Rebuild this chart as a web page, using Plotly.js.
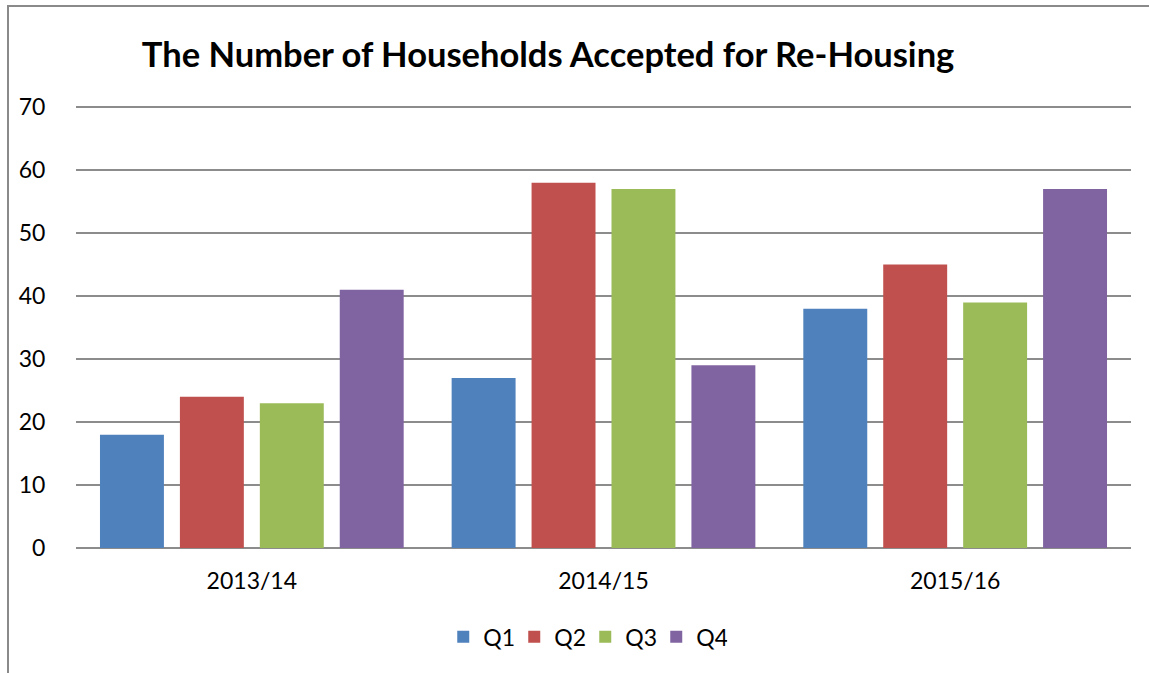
<!DOCTYPE html>
<html>
<head>
<meta charset="utf-8">
<script src="https://cdn.plot.ly/plotly-3.0.1.min.js"></script>
<style>
html,body{margin:0;padding:0;background:#fff;}
#wrap{position:relative;width:1149px;height:673px;}
#chart{width:1149px;height:673px;}
#frame{position:absolute;left:7px;top:5px;width:1160px;height:700px;border-left:2px solid #8a8a8a;border-top:2px solid #8a8a8a;pointer-events:none;}
</style>
</head>
<body>
<div id="wrap"><div id="chart"></div><div id="frame"></div></div>
<script>
const categories = ["2013/14", "2014/15", "2015/16"];
const seriesNames = ["Q1", "Q2", "Q3", "Q4"];
const q1 = [18, 27, 38];
const q2 = [24, 58, 45];
const q3 = [23, 57, 39];
const q4 = [41, 29, 57];
const colors = ["#4f81bd", "#c0504d", "#9bbb59", "#8064a2"];
const values = [q1, q2, q3, q4];
const yTicks = [0, 10, 20, 30, 40, 50, 60, 70];

const font = "Lato, 'Open Sans', sans-serif";
const traces = values.map((v, i) => ({
  type: "bar",
  name: seriesNames[i],
  x: categories,
  y: v,
  marker: {color: colors[i]},
  hoverinfo: "x+y+name"
}));

const layout = {
  width: 1149, height: 673,
  margin: {l: 76, r: 18, t: 104, b: 125},
  paper_bgcolor: "#fff", plot_bgcolor: "#fff",
  font: {family: font, size: 22, color: "#000"},
  title: {text: "<b>The Number of Households Accepted for Re-Housing</b>",
          font: {family: font, size: 34.5, color: "#000"},
          x: 0.477, xanchor: "center", y: 0.918, yanchor: "middle"},
  barmode: "group",
  bargap: 0.0909,
  bargroupgap: 0.2,
  xaxis: {type: "category", showgrid: false, zeroline: false, showline: false,
          ticks: "outside", ticklen: 12, tickcolor: "rgba(0,0,0,0)",
          tickfont: {family: font, size: 23, color: "#000"}},
  yaxis: {range: [0, 70.5], tickvals: yTicks, showgrid: true, gridcolor: "#8c8c8c", gridwidth: 1.5,
          zeroline: true, zerolinecolor: "#8c8c8c", zerolinewidth: 2, showline: false,
          ticks: "outside", ticklen: 25, tickcolor: "rgba(0,0,0,0)",
          tickfont: {family: font, size: 23, color: "#000"}},
  legend: {orientation: "h", x: 0.4827, xanchor: "center", y: -0.2, yanchor: "middle",
           font: {family: font, size: 23, color: "#000"}, itemwidth: 30,
           entrywidth: 26, entrywidthmode: "pixels", traceorder: "normal"},
  showlegend: true
};

Plotly.newPlot("chart", traces, layout, {displayModeBar: false, staticPlot: true});
</script>
</body>
</html>
